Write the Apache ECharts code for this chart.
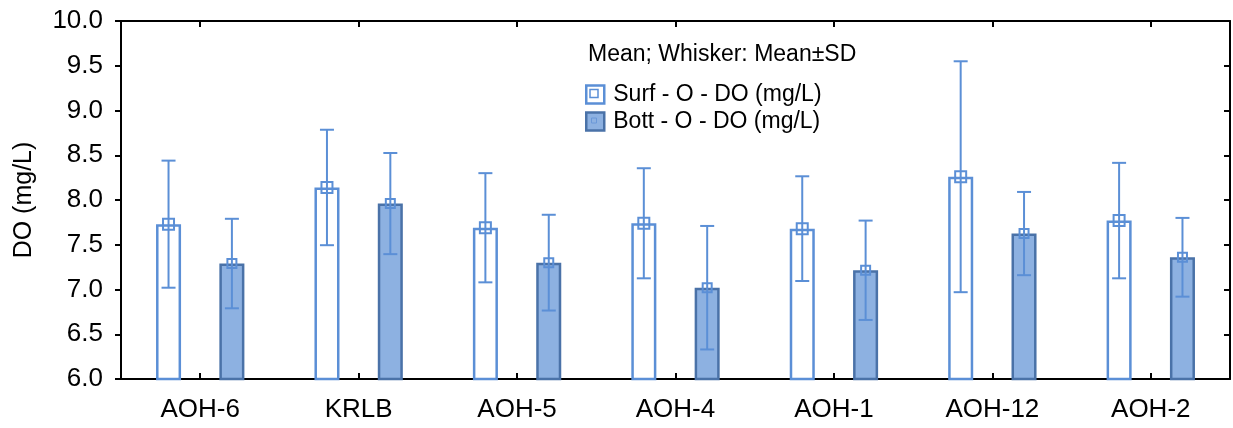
<!DOCTYPE html>
<html>
<head>
<meta charset="utf-8">
<script src="https://cdn.jsdelivr.net/npm/echarts@6/dist/echarts.min.js"></script>
<style>
  html, body { margin: 0; padding: 0; background: #ffffff; }
  #chart { width: 1233px; height: 428px; }
</style>
</head>
<body>
<div id="chart"></div>
<script>
// Sampling sites along the x axis
const categories = ['AOH-6', 'KRLB', 'AOH-5', 'AOH-4', 'AOH-1', 'AOH-12', 'AOH-2'];

// Dissolved oxygen, surface layer: mean and standard deviation (mg/L)
const surfMean = [7.73, 8.14, 7.69, 7.74, 7.68, 8.26, 7.77];
const surfSD   = [0.71, 0.645, 0.61, 0.615, 0.585, 1.29, 0.645];

// Dissolved oxygen, bottom layer: mean and standard deviation (mg/L)
const bottMean = [7.29, 7.96, 7.30, 7.02, 7.215, 7.625, 7.36];
const bottSD   = [0.50, 0.565, 0.535, 0.69, 0.555, 0.465, 0.44];

// Value axis range and step
const yMin = 6.0, yMax = 10.0, yStep = 0.5;

const SURF_NAME = 'Surf - O - DO (mg/L)';
const BOTT_NAME = 'Bott - O - DO (mg/L)';
const FONT = "'Liberation Sans', Arial, Helvetica, sans-serif";

const LIGHT = '#5b8fd6';
const FILL_B = '#8db1e1';
const EDGE_B = '#4a72a8';

// offset of each bar centre from the category centre, as a fraction of the band
const BAR_SHIFT = 0.2;

// legend placement: each row is the text height plus the gap
const LEG_LEFT = 585, LEG_TOP = 83, LEG_ICON = 18, LEG_GAP = 4;
const LEG_ROW = 27, LEG_FIRST_CY = LEG_TOP + 10.5;

function whiskerRenderer(shift, markerSize) {
  return function (params, api) {
    const idx = api.value(0);
    const mean = api.value(1);
    const sd = api.value(2);
    const band = api.size([1, 0])[0];
    const dx = shift * band;
    const pMean = api.coord([idx, mean]);
    const pHi = api.coord([idx, mean + sd]);
    const pLo = api.coord([idx, mean - sd]);
    const x = pMean[0] + dx;
    const cap = 7;
    const lineStyle = { stroke: LIGHT, lineWidth: 2, fill: null };
    const h = markerSize / 2;
    return {
      type: 'group',
      children: [
        { type: 'line', shape: { x1: x, y1: pHi[1], x2: x, y2: pLo[1] }, style: lineStyle },
        { type: 'line', shape: { x1: x - cap, y1: pHi[1], x2: x + cap, y2: pHi[1] }, style: lineStyle },
        { type: 'line', shape: { x1: x - cap, y1: pLo[1], x2: x + cap, y2: pLo[1] }, style: lineStyle },
        { type: 'rect', shape: { x: x - h, y: pMean[1] - h, width: markerSize, height: markerSize },
          style: { stroke: LIGHT, lineWidth: 2, fill: null } }
      ]
    };
  };
}

const chart = echarts.init(document.getElementById('chart'), null, { renderer: 'canvas' });

const axisLineStyle = { color: '#000000', width: 2 };
const iconCx = LEG_LEFT + LEG_ICON / 2;

chart.setOption({
  animation: false,
  backgroundColor: '#ffffff',
  textStyle: { fontFamily: FONT },
  grid: { left: 121, right: 3, top: 21, bottom: 49, containLabel: false },
  legend: {
    orient: 'vertical',
    left: LEG_LEFT,
    top: LEG_TOP,
    padding: 0,
    itemWidth: LEG_ICON,
    itemHeight: LEG_ICON,
    itemGap: LEG_GAP,
    icon: 'rect',
    selectedMode: false,
    textStyle: { fontFamily: FONT, fontSize: 23, color: '#000000', padding: [0, 0, 0, 4] },
    data: [
      { name: SURF_NAME, itemStyle: { color: '#ffffff', borderColor: LIGHT, borderWidth: 2.5 } },
      { name: BOTT_NAME, itemStyle: { color: FILL_B, borderColor: EDGE_B, borderWidth: 2.5 } }
    ]
  },
  graphic: [
    {
      type: 'text', left: 588, top: 43,
      style: { text: 'Mean; Whisker: Mean\u00b1SD', font: '23px ' + FONT, fill: '#000000' }
    },
    {
      type: 'rect', z: 100,
      shape: { x: iconCx - 4, y: LEG_FIRST_CY - 4, width: 8, height: 8 },
      style: { stroke: LIGHT, lineWidth: 1.5, fill: '#ffffff' }
    },
    {
      type: 'rect', z: 100,
      shape: { x: iconCx - 2.5, y: LEG_FIRST_CY + LEG_ROW - 2.5, width: 5, height: 5 },
      style: { stroke: '#6b98d8', lineWidth: 1, fill: null }
    }
  ],
  xAxis: [
    {
      type: 'category',
      data: categories,
      position: 'bottom',
      axisLine: { show: true, lineStyle: axisLineStyle },
      axisTick: { show: true, inside: true, alignWithLabel: true, length: 6, lineStyle: { color: '#000', width: 2 } },
      axisLabel: { fontFamily: FONT, fontSize: 26, color: '#000000', margin: 18 },
      splitLine: { show: false }
    },
    {
      type: 'category',
      data: categories,
      position: 'top',
      axisLine: { show: true, lineStyle: axisLineStyle },
      axisTick: { show: true, inside: true, alignWithLabel: true, length: 6, lineStyle: { color: '#000', width: 2 } },
      axisLabel: { show: false },
      splitLine: { show: false }
    }
  ],
  yAxis: [
    {
      type: 'value',
      min: yMin, max: yMax, interval: yStep,
      position: 'left',
      name: 'DO (mg/L)',
      nameLocation: 'middle',
      nameGap: 84,
      nameTextStyle: { fontFamily: FONT, fontSize: 25, color: '#000000' },
      axisLine: { show: true, lineStyle: axisLineStyle },
      axisTick: { show: true, inside: false, length: 6, lineStyle: { color: '#000', width: 2 } },
      axisLabel: { fontFamily: FONT, fontSize: 26, color: '#000000', margin: 18,
                   formatter: v => v.toFixed(1) },
      splitLine: { show: false }
    },
    {
      type: 'value',
      min: yMin, max: yMax, interval: yStep,
      position: 'right',
      axisLine: { show: true, lineStyle: axisLineStyle },
      axisTick: { show: true, inside: true, length: 6, lineStyle: { color: '#000', width: 2 } },
      axisLabel: { show: false },
      splitLine: { show: false }
    }
  ],
  series: [
    {
      name: SURF_NAME,
      type: 'bar',
      xAxisIndex: 0, yAxisIndex: 0,
      data: surfMean,
      barWidth: '15.8%',
      barGap: '153%',
      itemStyle: { color: '#ffffff', borderColor: LIGHT, borderWidth: 2.5 },
      z: 2
    },
    {
      name: BOTT_NAME,
      type: 'bar',
      xAxisIndex: 0, yAxisIndex: 0,
      data: bottMean,
      barWidth: '15.8%',
      barGap: '153%',
      itemStyle: { color: FILL_B, borderColor: EDGE_B, borderWidth: 2.5 },
      z: 2
    },
    {
      name: 'surf-sd',
      type: 'custom',
      xAxisIndex: 0, yAxisIndex: 0,
      renderItem: whiskerRenderer(-BAR_SHIFT, 11),
      data: categories.map((c, i) => [i, surfMean[i], surfSD[i]]),
      encode: { x: 0, y: [1] },
      z: 3
    },
    {
      name: 'bott-sd',
      type: 'custom',
      xAxisIndex: 0, yAxisIndex: 0,
      renderItem: whiskerRenderer(BAR_SHIFT, 9),
      data: categories.map((c, i) => [i, bottMean[i], bottSD[i]]),
      encode: { x: 0, y: [1] },
      z: 3
    }
  ]
});
</script>
</body>
</html>
